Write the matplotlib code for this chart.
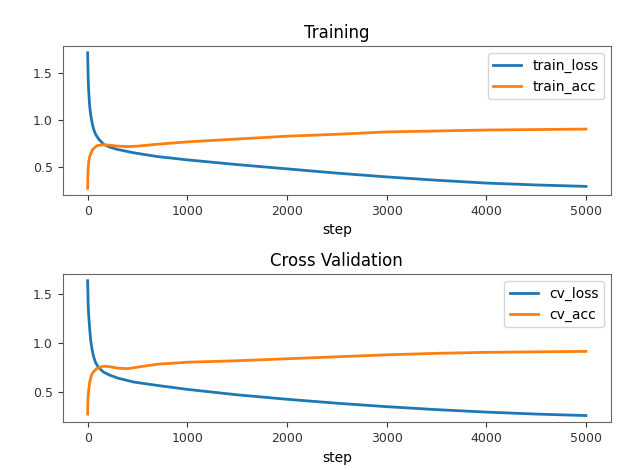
import matplotlib.pyplot as plt

# values
loss_steps = [0, 5, 10, 20, 30, 45, 60, 80, 110, 160, 220, 300, 460, 700, 1000, 1500, 2000, 2500, 3000, 3500, 4000, 4500, 5000]
train_loss = [1.71, 1.45, 1.32, 1.15, 1.06, 0.97, 0.905, 0.85, 0.80, 0.745, 0.715, 0.69, 0.655, 0.615, 0.58, 0.53, 0.485, 0.44, 0.40, 0.365, 0.335, 0.315, 0.30]
cv_loss = [1.63, 1.40, 1.29, 1.15, 1.03, 0.93, 0.86, 0.80, 0.75, 0.705, 0.675, 0.645, 0.605, 0.57, 0.53, 0.475, 0.43, 0.39, 0.355, 0.325, 0.30, 0.28, 0.265]

acc_steps = [0, 2, 5, 10, 20, 33, 45, 65, 95, 160, 220, 300, 400, 500, 700, 1000, 1500, 2000, 2500, 3000, 3500, 4000, 4500, 5000]
train_acc = [0.28, 0.40, 0.48, 0.555, 0.61, 0.65, 0.68, 0.705, 0.73, 0.74, 0.735, 0.725, 0.72, 0.725, 0.745, 0.77, 0.80, 0.83, 0.85, 0.875, 0.885, 0.895, 0.90, 0.905]
cv_acc = [0.28, 0.40, 0.46, 0.52, 0.60, 0.655, 0.69, 0.715, 0.745, 0.765, 0.76, 0.745, 0.74, 0.755, 0.785, 0.805, 0.82, 0.84, 0.86, 0.88, 0.895, 0.905, 0.91, 0.915]

fig = plt.figure(figsize=(6.18, 4.7), dpi=100)

ax1 = fig.add_axes([0.1015, 0.585, 0.887, 0.317])
ax1.plot(loss_steps, train_loss, color="#1f77b4", lw=2, label="train_loss")
ax1.plot(acc_steps, train_acc, color="#ff7f0e", lw=2, label="train_acc")
ax1.set_title("Training")
ax1.set_xlabel("step")
ax1.set_yticks([0.5, 1.0, 1.5])
ax1.legend(loc="upper right")

ax2 = fig.add_axes([0.1015, 0.1015, 0.887, 0.3155])
ax2.plot(loss_steps, cv_loss, color="#1f77b4", lw=2, label="cv_loss")
ax2.plot(acc_steps, cv_acc, color="#ff7f0e", lw=2, label="cv_acc")
ax2.set_title("Cross Validation")
ax2.set_xlabel("step")
ax2.set_yticks([0.5, 1.0, 1.5])
ax2.legend(loc="upper right")

for ax in (ax1, ax2):
    ax.tick_params(labelsize=9, colors="#333333")
    for s in ax.spines.values():
        s.set_color("#666666")

plt.savefig("out.png")
